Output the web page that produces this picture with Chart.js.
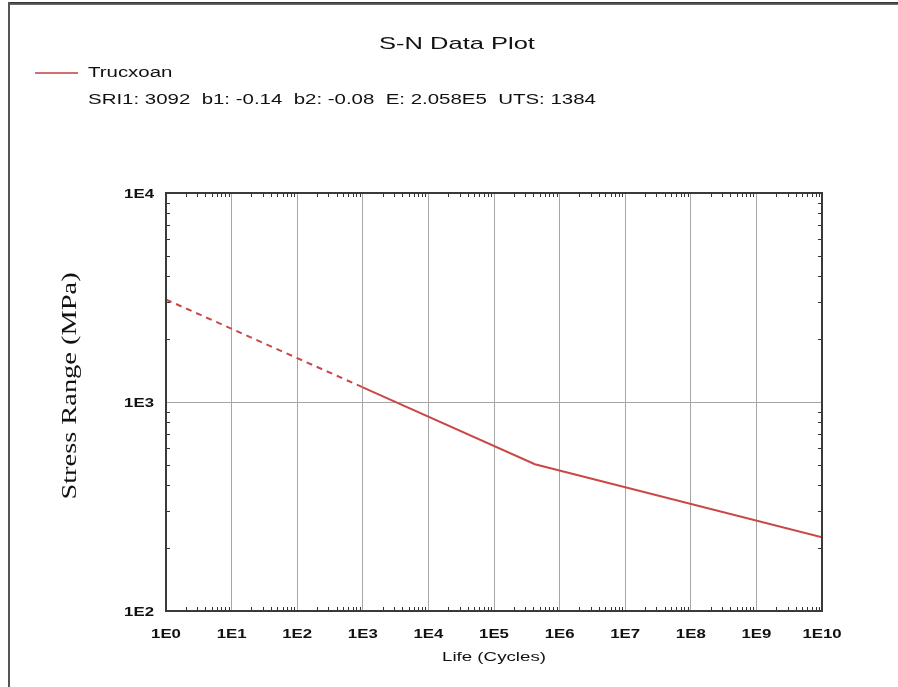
<!DOCTYPE html>
<html>
<head>
<meta charset="utf-8">
<script src="https://cdn.jsdelivr.net/npm/chart.js@4/dist/chart.umd.min.js"></script>
<style>
  html, body { margin: 0; padding: 0; background: #fff; }
  #wrap { position: relative; width: 898px; height: 687px; overflow: hidden; }
  #c { position: absolute; left: 0; top: 0; }
  .edgeTop { position: absolute; left: 8px; top: 2px; width: 890px; height: 3px;
             background: linear-gradient(#2a2a2a, #777); }
  .edgeLeft { position: absolute; left: 8px; top: 2px; width: 2px; height: 685px; background: #555; }
</style>
</head>
<body>
<div id="wrap">
  <canvas id="c" width="898" height="687"></canvas>
  <div class="edgeTop"></div>
  <div class="edgeLeft"></div>
</div>
<script>
// ---- data ----
const seriesName = 'Trucxoan';
const seriesInfo = 'SRI1: 3092  b1: -0.14  b2: -0.08  E: 2.058E5  UTS: 1384';
const lifeCycles = [1, 1e3, 4.2e5, 1e10];
const stressRange = [3092, 1175, 504, 225];
const dashedSegments = 1;               // first segment(s) drawn dashed (extrapolated part)
const xTickValues = [1e0, 1e1, 1e2, 1e3, 1e4, 1e5, 1e6, 1e7, 1e8, 1e9, 1e10];
const xTickLabels = ['1E0', '1E1', '1E2', '1E3', '1E4', '1E5', '1E6', '1E7', '1E8', '1E9', '1E10'];
const yTickValues = [1e2, 1e3, 1e4];
const yTickLabels = ['1E2', '1E3', '1E4'];
const chartTitle = 'S-N Data Plot';
const xTitle = 'Life (Cycles)';
const yTitle = 'Stress Range (MPa)';

const lineColor = '#c94848';
const SX = 1.46; // horizontal stretch of the original picture's text

function stretchedText(ctx, text, x, y, sx, align) {
  ctx.save();
  ctx.translate(x, y);
  ctx.scale(sx, 1);
  ctx.textAlign = align;
  ctx.textBaseline = 'middle';
  ctx.fillText(text, 0, 0);
  ctx.restore();
}

const decorPlugin = {
  id: 'decor',
  afterDraw(chart) {
    const ctx = chart.ctx;
    const a = chart.chartArea;
    const xs = chart.scales.x, ys = chart.scales.y;
    ctx.save();
    // minor ticks
    ctx.strokeStyle = '#333';
    ctx.lineWidth = 1;
    ctx.beginPath();
    for (let k = 0; k < 10; k++) {
      for (let m = 2; m <= 9; m++) {
        const px = Math.round(xs.getPixelForValue(m * Math.pow(10, k))) + 0.5;
        ctx.moveTo(px, a.top); ctx.lineTo(px, a.top + 4);
        ctx.moveTo(px, a.bottom); ctx.lineTo(px, a.bottom - 4);
      }
    }
    for (let k = 2; k < 4; k++) {
      for (let m = 2; m <= 9; m++) {
        const py = Math.round(ys.getPixelForValue(m * Math.pow(10, k))) + 0.5;
        ctx.moveTo(a.left, py); ctx.lineTo(a.left + 4, py);
        ctx.moveTo(a.right, py); ctx.lineTo(a.right - 4, py);
      }
    }
    ctx.stroke();
    // frame
    ctx.strokeStyle = '#3a3a3a';
    ctx.lineWidth = 2;
    ctx.strokeRect(a.left, a.top, a.right - a.left, a.bottom - a.top);

    // tick labels
    ctx.fillStyle = '#111';
    ctx.font = 'bold 12px "Liberation Sans", Arial, sans-serif';
    xTickValues.forEach((v, i) => {
      stretchedText(ctx, xTickLabels[i], xs.getPixelForValue(v), a.bottom + 24, 1.4, 'center');
    });
    yTickValues.forEach((v, i) => {
      stretchedText(ctx, yTickLabels[i], a.left - 12, ys.getPixelForValue(v) + 2, 1.4, 'right');
    });

    // axis titles
    ctx.font = '13px "Liberation Sans", Arial, sans-serif';
    stretchedText(ctx, xTitle, (a.left + a.right) / 2, a.bottom + 46, 1.44, 'center');
    ctx.save();
    ctx.translate(71, (a.top + a.bottom) / 2 - 16);
    ctx.rotate(-Math.PI / 2);
    ctx.font = '20px "Liberation Serif", "Times New Roman", serif';
    stretchedText(ctx, yTitle, 0, 0, 1.42, 'center');
    ctx.restore();

    // chart title
    ctx.font = '17px "Liberation Sans", Arial, sans-serif';
    stretchedText(ctx, chartTitle, 457, 44, 1.5, 'center');

    // legend
    ctx.strokeStyle = '#d56e6e';
    ctx.lineWidth = 2;
    ctx.beginPath(); ctx.moveTo(35, 73); ctx.lineTo(78, 73); ctx.stroke();
    ctx.font = '14px "Liberation Sans", Arial, sans-serif';
    stretchedText(ctx, chart.data.datasets[0].label, 88, 73, SX, 'left');
    stretchedText(ctx, seriesInfo, 88, 100, SX, 'left');
    ctx.restore();
  }
};

new Chart(document.getElementById('c'), {
  type: 'line',
  data: {
    datasets: [{
      label: seriesName,
      data: lifeCycles.map((x, i) => ({ x: x, y: stressRange[i] })),
      borderColor: lineColor,
      backgroundColor: lineColor,
      borderWidth: 2,
      pointRadius: 0,
      tension: 0,
      fill: false,
      segment: {
        borderDash: c => (c.p0DataIndex < dashedSegments ? [6, 5] : undefined)
      }
    }]
  },
  options: {
    responsive: false,
    animation: false,
    devicePixelRatio: 1,
    layout: { padding: { left: 166, right: 76, top: 193, bottom: 76 } },
    plugins: { legend: { display: false }, title: { display: false }, tooltip: { enabled: false } },
    scales: {
      x: {
        type: 'logarithmic',
        min: 1, max: 1e10,
        afterBuildTicks: s => { s.ticks = xTickValues.map(v => ({ value: v })); },
        afterFit: s => { s.height = 0; },
        ticks: { display: false },
        grid: { color: '#a6a6a6', lineWidth: 1, drawTicks: false },
        border: { display: false }
      },
      y: {
        type: 'logarithmic',
        min: 100, max: 10000,
        afterBuildTicks: s => { s.ticks = yTickValues.map(v => ({ value: v })); },
        afterFit: s => { s.width = 0; },
        ticks: { display: false },
        grid: { color: '#a6a6a6', lineWidth: 1, drawTicks: false },
        border: { display: false }
      }
    }
  },
  plugins: [decorPlugin]
});
</script>
</body>
</html>
